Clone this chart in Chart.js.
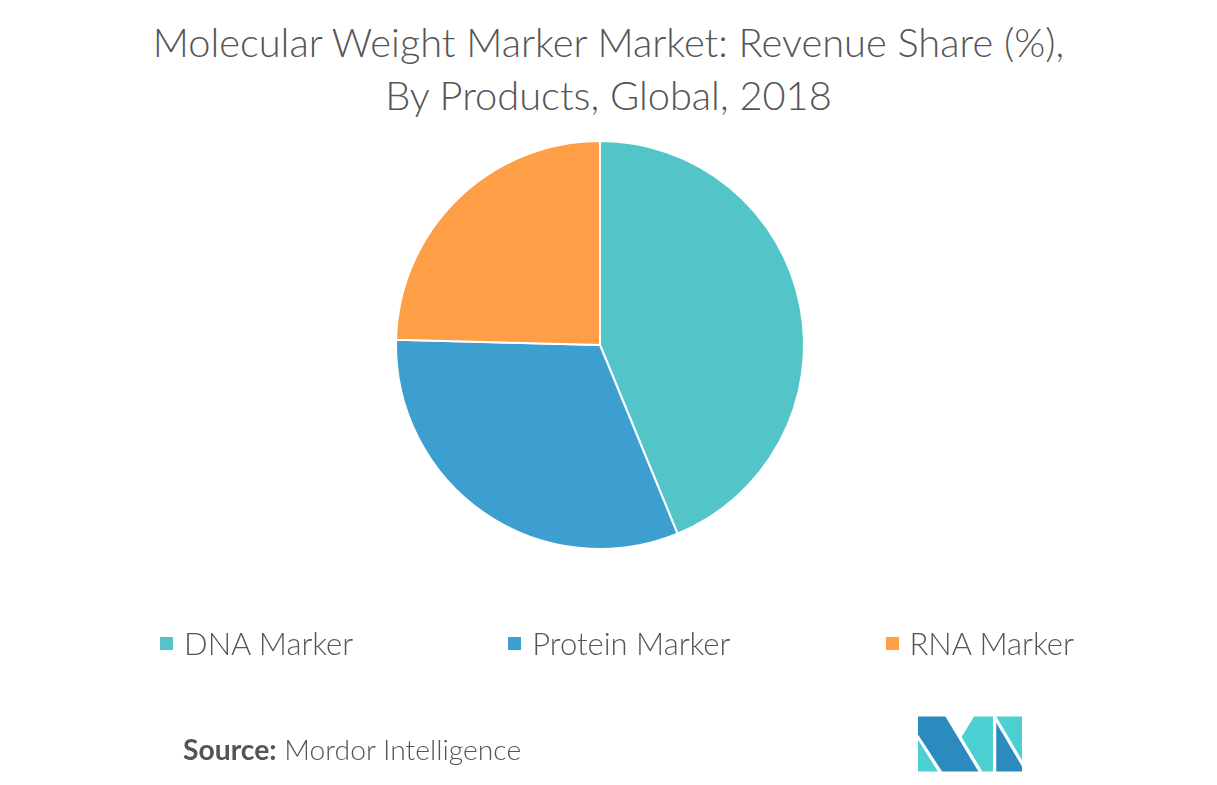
<!DOCTYPE html>
<html>
<head>
<meta charset="utf-8">
<script src="https://cdn.jsdelivr.net/npm/chart.js@4.4.1/dist/chart.umd.min.js"></script>
<style>
  html, body { margin: 0; padding: 0; background: #fff; }
  body { width: 1217px; height: 785px; position: relative; overflow: hidden; font-family: Lato, "Open Sans", sans-serif; color: #555; }
  #title { position: absolute; left: 0; top: 15px; width: 1217px; text-align: center; font-size: 39.8px; font-weight: 300; line-height: 53px; }
  #chart { position: absolute; left: 0; top: 0; }
  #legend { position: absolute; left: 0; top: 621px; width: 1234px; display: flex; justify-content: center; gap: 155px; font-size: 31px; font-weight: 300; line-height: 44px; }
  #legend .item { display: flex; align-items: center; white-space: nowrap; }
  #legend .box { width: 13px; height: 13px; margin-right: 11px; }
  #source { position: absolute; left: 183px; top: 731px; font-size: 28.3px; font-weight: 300; line-height: 36px; }
  #source b { font-weight: 700; }
  #logo { position: absolute; left: 918px; top: 716px; }
</style>
</head>
<body>
<div id="title">Molecular Weight Marker Market: Revenue Share (%),<br>By Products, Global, 2018</div>
<canvas id="chart" width="1217" height="785"></canvas>
<div id="legend"></div>
<div id="source"><b>Source:</b> Mordor Intelligence</div>
<svg id="logo" width="104" height="56" viewBox="35 33 315 167">
  <polygon points="35,33 118,33 218,200 108,200 35,88" fill="#2b8bbf"/>
  <polygon points="35,104 35,200 95,200" fill="#4bcfd0"/>
  <polygon points="205,33 262,33 262,200 230,200 167,95" fill="#4bcfd0"/>
  <polygon points="272,33 350,33 350,165" fill="#4bcfd0"/>
  <polygon points="272,52 350,185 350,200 272,200" fill="#2b8bbf"/>
</svg>
<script>
// revenue share by product, 2018
const categories = ["DNA Marker", "Protein Marker", "RNA Marker"];
const shares = [43.8, 31.6, 24.6];
const colors = ["#53c5c8", "#3d9fd0", "#fe9e47"];

const ctx = document.getElementById("chart").getContext("2d");
const pieChart = new Chart(ctx, {
  type: "pie",
  data: {
    labels: categories,
    datasets: [
      {
        data: shares,
        backgroundColor: colors,
        borderColor: "#fff",
        borderWidth: 2,
      },
    ],
  },
  options: {
    responsive: false,
    animation: false,
    radius: 204,
    layout: {
      padding: { top: 139, bottom: 234, left: 0, right: 17 },
    },
    plugins: {
      legend: { display: false },
      tooltip: { enabled: false },
    },
  },
});

// html legend built from the chart's own labels
const legendEl = document.getElementById("legend");
pieChart.options.plugins.legend.labels.generateLabels(pieChart).forEach(function (item) {
  const div = document.createElement("div");
  div.className = "item";
  const box = document.createElement("span");
  box.className = "box";
  box.style.background = item.fillStyle;
  const txt = document.createElement("span");
  txt.textContent = item.text;
  div.appendChild(box);
  div.appendChild(txt);
  legendEl.appendChild(div);
});
</script>
</body>
</html>
